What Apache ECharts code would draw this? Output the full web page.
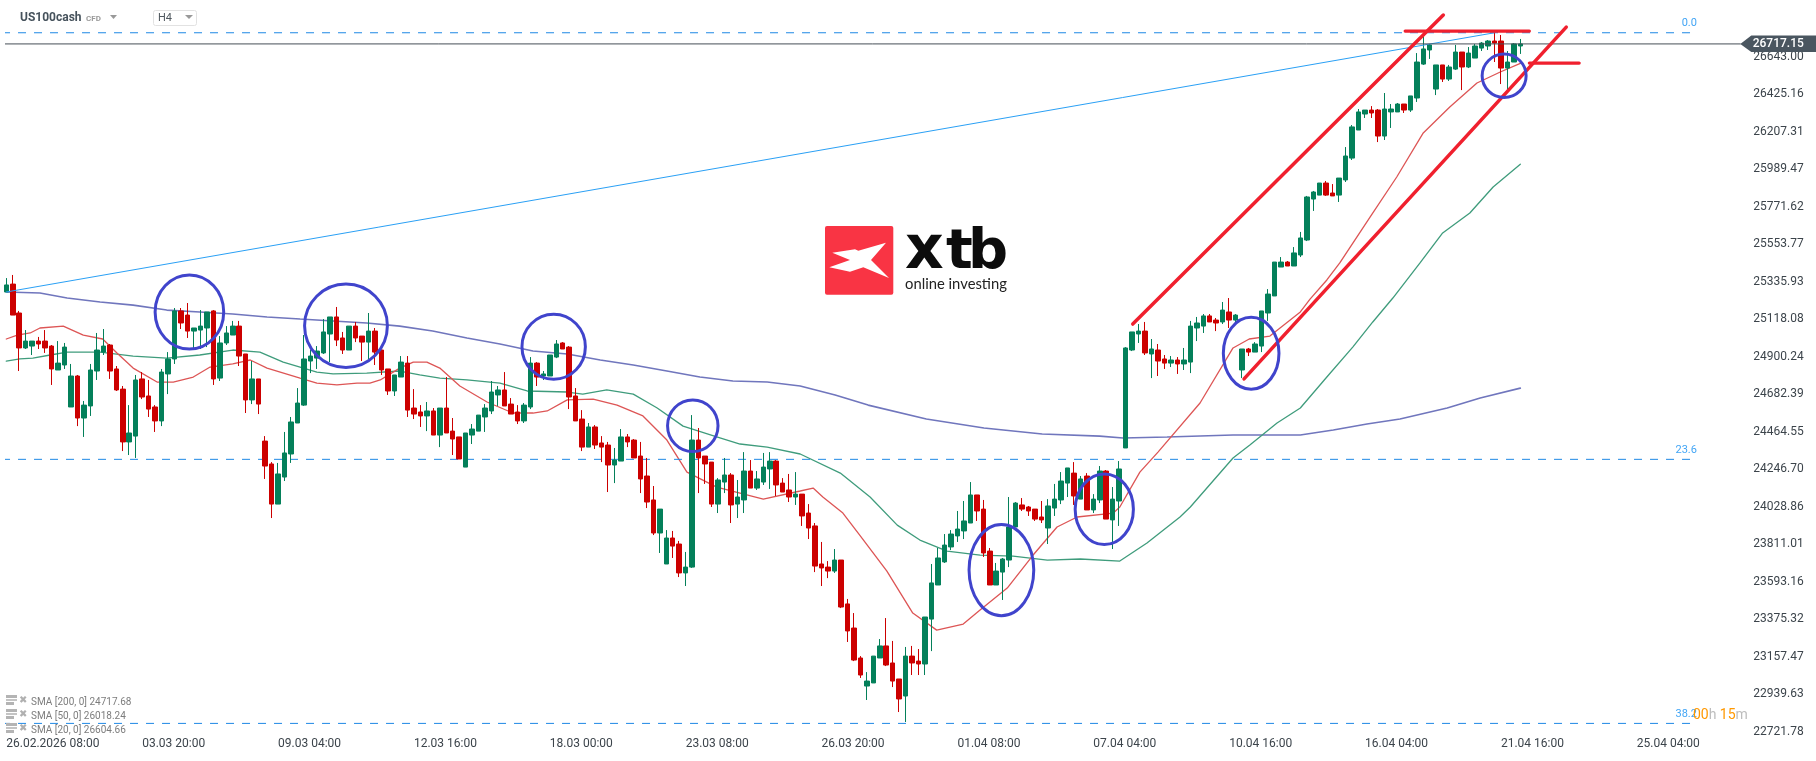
<!DOCTYPE html>
<html>
<head>
<meta charset="utf-8">
<style>html,body{margin:0;padding:0;background:#fff}#c{width:1816px;height:761px}</style>
<script src="https://cdn.jsdelivr.net/npm/echarts@6/dist/echarts.min.js"></script>
</head>
<body>
<div id="c"></div>
<script>
const timeLabels = ['26.02.2026 08:00','03.03 20:00','09.03 04:00','12.03 16:00','18.03 00:00','23.03 08:00','26.03 20:00','01.04 08:00','07.04 04:00','10.04 16:00','16.04 04:00','21.04 16:00','25.04 04:00'];
const priceTicks = [22721.78,22939.63,23157.47,23375.32,23593.16,23811.01,24028.86,24246.70,24464.55,24682.39,24900.24,25118.08,25335.93,25553.77,25771.62,25989.47,26207.31,26425.16,26643.00];

const opens = [25276,25322,25154,24951,24962,24991,24991,24962,24823,24852,
24608,24788,24544,24614,24817,24927,24968,24829,24712,24405,
24439,24771,24672,24608,24527,24800,24887,25166,25142,25049,
25055,25067,25166,24776,24980,25026,25078,24916,24649,24771,
24410,24277,24044,24201,24335,24515,24619,24875,24892,24922,
25032,25131,25009,24939,25078,25020,24985,25049,24939,24829,
24701,24782,24863,24602,24579,24556,24585,24445,24602,24468,
24434,24259,24445,24468,24550,24585,24678,24707,24625,24579,
24527,24608,24863,24788,24788,24898,24980,24956,24672,24538,
24375,24492,24399,24387,24271,24294,24434,24416,24323,24207,
24068,23876,23696,23847,23812,23644,23678,24416,24323,24288,
24044,24172,24213,24044,24068,24236,24137,24172,24248,24294,
24166,24126,24085,24102,23992,23917,23696,23678,23655,23719,
23464,23324,23150,22987,23005,23150,23220,23121,23028,22929,
23161,23132,23115,23376,23574,23708,23795,23859,23888,23934,
24097,24015,23771,23574,23649,23719,23911,24039,24027,24015,
23969,23905,24021,24068,24166,24224,24073,24207,24010,24068,
24236,23952,24062,24370,24939,25032,25049,24916,24939,24887,
24863,24881,24858,24869,25067,25078,25137,25113,25102,25160,
25113,24823,24945,24927,24962,25154,25253,25421,25450,25427,
25491,25578,25816,25839,25909,25851,25839,25927,26054,26217,
26310,26333,26333,26182,26322,26322,26368,26333,26403,26600,
26682,26455,26595,26513,26571,26670,26583,26635,26693,26705,
26734,26734,26577,26612,26705];

const closes = [25317,25142,24951,24991,24991,24974,24951,24829,24863,24956,
24788,24544,24619,24823,24939,24962,24817,24707,24405,24457,
24765,24666,24596,24527,24811,24887,25166,25096,25049,25067,
25078,25160,24771,24980,25038,25078,24904,24649,24771,24625,
24265,24044,24219,24341,24521,24631,24887,24904,24933,25044,
25131,24997,24939,25078,25009,24985,25049,24927,24823,24701,
24794,24869,24590,24567,24556,24585,24445,24602,24457,24422,
24306,24457,24480,24561,24602,24695,24707,24614,24567,24527,
24619,24863,24782,24800,24910,24974,24945,24666,24527,24375,
24492,24387,24375,24271,24300,24434,24405,24312,24190,24056,
23876,24015,23847,23800,23644,23678,24416,24312,24277,24044,
24184,24213,24039,24085,24236,24137,24190,24259,24294,24155,
24114,24085,24102,23975,23905,23684,23673,23655,23719,23446,
23307,23138,23051,23016,23161,23220,23109,23016,22912,23161,
23121,23115,23388,23586,23731,23806,23870,23899,23946,24097,
24004,23760,23574,23655,23725,23911,24050,24015,24004,23957,
23952,24033,24073,24178,24254,24091,24190,24010,24073,24236,
23957,24073,24248,24951,25044,25049,24922,24945,24875,24863,
24881,24858,24881,25078,25096,25137,25102,25096,25171,25113,
25142,24945,24927,24974,25166,25264,25450,25450,25427,25503,
25590,25828,25857,25909,25839,25834,25938,26066,26235,26322,
26333,26316,26182,26339,26339,26368,26333,26415,26612,26688,
26711,26595,26513,26583,26670,26583,26664,26705,26722,26734,
26722,26577,26612,26717,26717.15];

const lows = [25276,25142,24817,24945,24910,24945,24922,24736,24823,24829,
24608,24497,24434,24556,24765,24910,24771,24701,24352,24329,
24312,24654,24550,24463,24497,24683,24858,25061,25009,24945,
24945,24956,24736,24759,24968,25026,24846,24573,24625,24567,
24190,23963,24044,24178,24283,24515,24614,24805,24829,24916,
24869,24962,24916,24939,24985,24875,24887,24852,24794,24678,
24672,24782,24550,24538,24492,24468,24445,24375,24457,24329,
24306,24259,24393,24468,24463,24567,24614,24614,24567,24509,
24515,24596,24730,24765,24788,24892,24945,24596,24527,24352,
24375,24364,24288,24114,24166,24294,24375,24312,24108,24021,
23864,23760,23696,23731,23620,23568,23673,24108,24161,24027,
23992,24108,23934,23963,23992,24137,24126,24155,24132,24091,
24114,24056,24039,23917,23841,23649,23568,23614,23644,23440,
23243,23132,23034,22906,23005,23150,23103,22981,22836,22778,
23051,23051,23051,23190,23574,23702,23777,23824,23841,23934,
23946,23737,23574,23574,23487,23678,23911,24004,23975,23946,
23934,23812,23975,24044,24085,24039,24073,24010,23992,24050,
23957,23783,23917,24370,24933,24980,24910,24776,24788,24829,
24840,24800,24823,24805,24991,25038,25102,25049,25090,25067,
25096,24776,24904,24927,24927,25108,25253,25421,25427,25427,
25479,25572,25747,25839,25834,25834,25799,25915,26043,26217,
26287,26287,26147,26159,26229,26322,26316,26322,26380,26595,
26630,26420,26496,26502,26566,26449,26577,26635,26676,26682,
26612,26484,26449,26612,26659];

const highs = [25357,25375,25166,25055,24991,25015,25055,24968,24991,24980,
24858,24794,24643,24858,25038,25061,24974,24846,24730,24619,
24794,24811,24765,24619,24829,24927,25183,25183,25212,25067,
25171,25160,25171,25020,25078,25108,25108,24916,24875,24771,
24439,24288,24283,24463,24550,24718,25026,24939,24962,25119,
25131,25189,25044,25078,25102,25020,25154,25067,24939,24829,
24794,24904,24904,24712,24619,24637,24602,24602,24782,24544,
24434,24457,24509,24561,24625,24759,24730,24811,24660,24619,
24631,24898,24869,24817,24910,24997,24985,24962,24718,24590,
24515,24503,24439,24405,24370,24480,24451,24422,24405,24312,
24149,24015,23893,23888,23830,23766,24561,24486,24323,24288,
24195,24312,24224,24184,24346,24300,24236,24341,24346,24300,
24195,24219,24230,24102,24044,23934,23824,23713,23783,23719,
23493,23411,23161,23068,23161,23260,23382,23249,23028,23214,
23220,23202,23388,23696,23789,23870,23893,24004,24062,24172,
24097,24068,23789,23702,23731,24085,24056,24079,24033,24015,
24062,24073,24161,24230,24254,24288,24207,24224,24102,24265,
24242,24143,24294,24956,25044,25090,25102,25003,24974,24910,
24904,24898,24951,25108,25131,25148,25148,25125,25218,25241,
25148,24945,24951,24985,25166,25293,25450,25479,25456,25537,
25625,25834,25863,25909,25921,25903,25938,26118,26246,26339,
26333,26356,26339,26432,26368,26374,26368,26415,26664,26763,
26717,26595,26595,26595,26711,26670,26699,26717,26728,26740,
26786,26769,26676,26722,26746];

const sma20 = [[0,25003],[1.7,25026],[3.7,25038],[5.2,25067],[8.8,25078],[11.9,25026],[14.9,25003],[17.1,24922],[19.6,24834],[23.3,24753],[25.8,24753],[28.9,24782],[31.5,24840],[35,24858],[37.7,24881],[40.3,24834],[45.4,24776],[48,24747],[51.1,24736],[54.2,24747],[56.2,24747],[57.8,24765],[60.8,24834],[62.9,24869],[65,24869],[67,24834],[70.1,24730],[74.3,24637],[78.3,24573],[81.4,24573],[83.6,24585],[86.7,24649],[90.7,24654],[94.4,24619],[98.4,24556],[102.1,24416],[105.2,24230],[109.8,24143],[117,24073],[122.7,24120],[124.7,24137],[126.2,24085],[129.3,23992],[131.9,23864],[136.1,23655],[140.1,23411],[143.8,23312],[147.9,23347],[150.5,23429],[154.7,23556],[158.7,23748],[162.4,23911],[165.5,23969],[171.1,23992],[172.1,24027],[175.2,24230],[178,24346],[184.5,24631],[189.6,24951],[192.1,25003],[195.3,25020],[200,25160],[201.5,25235],[204.1,25346],[206.1,25445],[210.8,25712],[214.9,25944],[219,26200],[223.1,26351],[227.3,26490],[230.9,26554],[234,26604.66]];

const sma50 = [[0,24875],[2.1,24887],[4.1,24892],[6.8,24910],[9.4,24927],[14.5,24927],[19.6,24904],[24.8,24892],[29.9,24910],[35,24939],[39.2,24927],[42.8,24869],[48,24811],[50.5,24800],[55.7,24805],[60.8,24817],[63.9,24794],[67,24776],[71.2,24765],[76.3,24747],[80.5,24701],[86.7,24695],[89.1,24683],[92.8,24707],[96.9,24683],[100.6,24602],[104.6,24497],[109.8,24434],[113.4,24393],[117.6,24375],[122.7,24335],[128.9,24224],[133.5,24085],[137.7,23922],[141.2,23835],[145.4,23771],[150.5,23748],[155.6,23742],[160.9,23719],[166,23725],[172.1,23713],[176.3,23818],[181.4,23969],[183,24027],[189.6,24312],[192.2,24387],[196.4,24515],[200,24602],[204.1,24782],[208.1,24956],[211.2,25102],[214.3,25241],[218.5,25445],[222,25619],[226.2,25735],[229.8,25886],[234,26018.24]];

const sma200 = [[0,25276],[5.2,25270],[9.4,25241],[14.5,25218],[19.6,25200],[24.8,25171],[29.9,25160],[35,25148],[40.3,25131],[45.4,25119],[50.5,25108],[55.7,25096],[60.8,25078],[65.9,25049],[71.2,25009],[76.3,24974],[81.4,24933],[86.7,24916],[91.8,24881],[96.9,24852],[102.1,24817],[107.2,24782],[112.3,24759],[117.6,24753],[122.7,24730],[128.1,24678],[133.2,24619],[142.2,24538],[151.1,24486],[160.1,24451],[169,24439],[172.6,24428],[179.4,24434],[189.6,24445],[200,24445],[205.1,24474],[210.3,24509],[215.4,24538],[222.7,24602],[227.8,24660],[234,24717.68]];

const fibLevels = [['0.0',26782],['23.6',24304],['38.2',22770]];
const fibSpan = [-0.66,261.3];
const lastPrice = 26717.15;
const priceSpan = [-0.66,268];
const blueTrend = [[0,25276],[230,26782]];
const upperChannel = [[174.1,25090],[222.1,26885]];
const lowerChannel = [[191.3,24771],[241.1,26815]];
const topLevel = [[216.2,26792],[235.4,26792]];
const sideLevel = [[235.4,26606],[243.1,26606]];
// centre bar, centre price, half width in bars, half height in price
const circles = [[28.3,25160,5.3,215],[52.5,25080,6.4,242],[84.6,24958,4.9,189],[106.1,24499,3.9,150],[153.8,23661,5.0,265],[169.7,24014,4.5,205],[192.4,24920,4.3,209],[231.5,26532,3.4,126]];

const BAR_STEP = 21;
const X_MAX = 268;
const candles = opens.map((o,i)=>[i,o,closes[i],lows[i],highs[i]]);
const lineSeries = (data,color,width,z,extra)=>Object.assign({type:'line',data,showSymbol:false,symbol:'none',clip:false,silent:true,z,lineStyle:{color,width,cap:'round'}},extra||{});
const GREEN='#04805a',RED='#cc0000',FIB='#1e88e5',ANN='#f0202e',RING='#4044cc';

const fibSeries = fibLevels.map(l=>lineSeries(fibSpan.map(x=>[x,l[1]]),FIB,1,3,{lineStyle:{color:FIB,width:1,type:[8,8]}}));

const smaLegend = [['SMA [200, 0] 24717.68',701],['SMA [50, 0] 26018.24',715],['SMA [20, 0] 26604.66',729]];
const legendGraphics = [];
smaLegend.forEach(r=>{
  const y=r[1];
  legendGraphics.push({type:'rect',left:6,top:y-6,shape:{width:11,height:3},style:{fill:'#b4b4b4'},z:20});
  legendGraphics.push({type:'rect',left:6,top:y-2,shape:{width:11,height:2},style:{fill:'#c4c4c4'},z:20});
  legendGraphics.push({type:'rect',left:6,top:y+1,shape:{width:8,height:3},style:{fill:'#b4b4b4'},z:20});
  legendGraphics.push({type:'text',left:19,top:y-6,style:{text:'\u2716',font:'10px "DejaVu Sans"',fill:'#b0b0b0'},z:20});
  legendGraphics.push({type:'text',left:31,top:y-4,style:{text:r[0],font:'10px Roboto',fill:'#7d7d7d'},z:20});
});

const option = {
  animation:false,
  backgroundColor:'#ffffff',
  textStyle:{fontFamily:'Roboto'},
  grid:{left:6.3,top:0,width:1734,height:731.7,containLabel:false,show:false},
  xAxis:{type:'value',min:0,max:X_MAX,interval:BAR_STEP,splitLine:{show:false},axisLine:{show:false},axisTick:{show:false},
    axisLabel:{align:'left',margin:6,fontSize:12,fontFamily:'Roboto',color:'#3c444b',showMinLabel:true,showMaxLabel:false,hideOverlap:false,
      formatter:v=>timeLabels[v/BAR_STEP]||''}},
  yAxis:{type:'value',position:'right',min:22721.78,max:26972.3,splitLine:{show:false},axisLine:{show:false},axisTick:{show:false,customValues:priceTicks},
    axisLabel:{customValues:priceTicks,margin:13,fontSize:12,fontFamily:'Roboto',color:'#3c444b',showMinLabel:true,showMaxLabel:true,formatter:v=>v.toFixed(2)}},
  series:[
    lineSeries(sma200,'#7076bd',1.6,2),
    lineSeries(sma50,'#3f9c7c',1.3,2),
    lineSeries(sma20,'#dd5555',1.3,2),
    {type:'candlestick',data:candles,clip:false,silent:true,barWidth:5,z:3,encode:{x:0,y:[1,2,3,4]},
      itemStyle:{color:GREEN,color0:RED,borderColor:GREEN,borderColor0:RED,borderWidth:1}},
    ...fibSeries,
    lineSeries(blueTrend,'#2aa0f5',1,4),
    lineSeries(priceSpan.map(x=>[x,lastPrice]),'#464f57',1,4),
    lineSeries(upperChannel,ANN,3.5,6),
    lineSeries(lowerChannel,ANN,3.5,6),
    lineSeries(topLevel,ANN,3.2,6),
    lineSeries(sideLevel,ANN,3.2,6),
    {type:'custom',silent:true,clip:false,z:7,data:circles,encode:{x:0,y:1},
      renderItem:(p,api)=>{
        const c=api.coord([api.value(0),api.value(1)]);
        const e=api.coord([api.value(0)+api.value(2),api.value(1)+api.value(3)]);
        return {type:'ellipse',shape:{cx:c[0],cy:c[1],rx:Math.abs(e[0]-c[0]),ry:Math.abs(e[1]-c[1])},
          style:{fill:'none',stroke:RING,lineWidth:3}};
      }},
    {type:'custom',silent:true,clip:false,z:5,data:fibLevels.map(l=>[fibSpan[1],l[1],l[0]]),encode:{x:0,y:1},
      renderItem:(p,api)=>{
        const c=api.coord([api.value(0),api.value(1)]);
        return {type:'text',x:c[0],y:c[1]-9.4,style:{text:fibLevels[p.dataIndex][0],align:'right',verticalAlign:'middle',font:'11px Roboto',fill:'#42a5f5'}};
      }},
    {type:'custom',silent:true,clip:false,z:8,data:[[X_MAX,lastPrice]],encode:{x:0,y:1},
      renderItem:(p,api)=>{
        const c=api.coord([api.value(0),api.value(1)]);
        const x=c[0],y=c[1],r=api.getWidth();
        return {type:'group',children:[
          {type:'polygon',shape:{points:[[x,y],[x+11,y-8.5],[r,y-8.5],[r,y+8],[x+11,y+8]]},style:{fill:'#4a5660'}},
          {type:'text',x:x+12.4,y:y,style:{text:lastPrice.toFixed(2),align:'left',verticalAlign:'middle',font:'500 12px Roboto',fill:'#ffffff'}}
        ]};
      }}
  ],
  graphic:{elements:[
    {type:'text',left:20,top:12,style:{text:'US100cash',font:'bold 12px Roboto',fill:'#46525c'},z:20},
    {type:'text',left:86,top:15,style:{text:'CFD',font:'bold 8px Roboto',fill:'#9a9a9a'},z:20},
    {type:'polygon',shape:{points:[[110,15],[117,15],[113.5,19]]},style:{fill:'#999999'},z:20},
    {type:'rect',shape:{x:153.5,y:10.5,width:43,height:15,r:2},style:{fill:'#ffffff',stroke:'#e2e2e2',lineWidth:1},z:20},
    {type:'text',left:158,top:13,style:{text:'H4',font:'11px Roboto',fill:'#50585f'},z:21},
    {type:'polygon',shape:{points:[[185,15],[193,15],[189,19]]},style:{fill:'#999999'},z:21},
    {type:'rect',shape:{x:825,y:226,width:68.3,height:68.7,r:2},style:{fill:'#f93444'},z:1},
    {type:'polygon',shape:{points:[[886,242.7],[858.3,250.7],[855,249.3],[832.3,252.7],[850,260],[829.3,267.3],[850,271.7],[863.3,267.3],[889,278],[871,260]]},style:{fill:'#ffffff'},z:1},
    {type:'text',x:905,y:252,style:{text:'x',font:'bold 60px "DejaVu Sans"',fill:'#0c0c0c',verticalAlign:'middle'},z:1},
    {type:'text',x:946,y:253.6,style:{text:'t',font:'bold 56px "DejaVu Sans"',fill:'#0c0c0c',verticalAlign:'middle'},z:1},
    {type:'text',x:968,y:253.6,style:{text:'b',font:'bold 56px "DejaVu Sans"',fill:'#0c0c0c',verticalAlign:'middle'},z:1},
    {type:'text',left:905,top:277,style:{text:'online investing',font:'14.8px Lato',fill:'#222222'},z:1},
    {type:'text',left:1693,top:708,style:{text:'{o|00}{g|h} {o|15}{g|m}',rich:{o:{font:'14px Roboto',fill:'#ff9800'},g:{font:'14px Roboto',fill:'#bdbdbd'}}},z:20},
    ...legendGraphics
  ]}
};
echarts.init(document.getElementById('c'),null,{renderer:'canvas'}).setOption(option);
</script>
</body>
</html>
